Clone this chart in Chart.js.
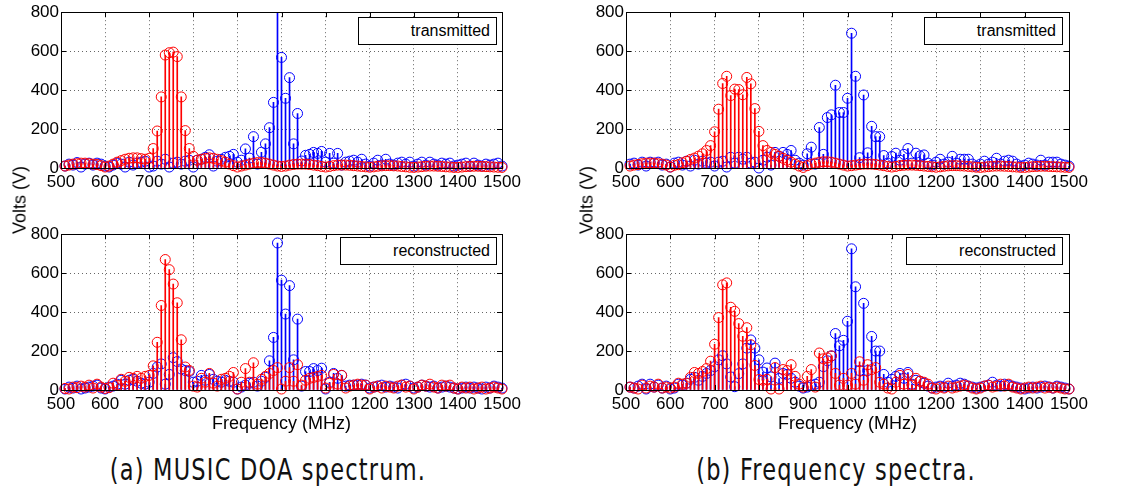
<!DOCTYPE html>
<html>
<head>
<meta charset="utf-8">
<script src="https://cdn.jsdelivr.net/npm/chart.js@4"></script>
<style>
  body { margin: 0; background: #fff; }
  #page { position: relative; width: 1138px; height: 495px; overflow: hidden; font-family: "Liberation Sans", Arial, sans-serif; }
  canvas { position: absolute; }
  .legend { position: absolute; border: 1px solid #000; background: #fff; font-size: 16px; line-height: 26px; height: 26px; text-align: right; padding-right: 6px; box-sizing: content-box; }
  .ylab { position: absolute; font-size: 18px; transform: translate(-50%, -50%) rotate(-90deg); white-space: nowrap; }
  .caption { position: absolute; font-family: "DejaVu Sans Condensed", "DejaVu Sans", sans-serif; font-size: 25px; letter-spacing: 1.2px; color: #111; transform: translate(-50%, -50%) scaleY(1.2); white-space: nowrap; }
</style>
</head>
<body>
<div id="page">
  <canvas id="ta" width="565" height="200" style="left:0;top:0"></canvas>
  <canvas id="tb" width="573" height="200" style="left:565px;top:0"></canvas>
  <canvas id="ra" width="565" height="215" style="left:0;top:222px"></canvas>
  <canvas id="rb" width="573" height="215" style="left:565px;top:222px"></canvas>
  <div class="legend" style="left:358px;top:17px;width:131px">transmitted</div>
  <div class="legend" style="left:924px;top:17px;width:131px">transmitted</div>
  <div class="legend" style="left:340px;top:237px;width:149px">reconstructed</div>
  <div class="legend" style="left:906px;top:237px;width:149px">reconstructed</div>
  <div class="ylab" style="left:20px;top:200px">Volts (V)</div>
  <div class="ylab" style="left:587px;top:200px">Volts (V)</div>
  <div class="caption" style="left:268px;top:470px">(a) MUSIC DOA spectrum.</div>
  <div class="caption" style="left:836px;top:470px">(b) Frequency spectra.</div>
</div>
<script>
// frequency grid (MHz)
const freqs = [
  509.1, 518.2, 527.3, 536.4, 545.5, 554.5, 563.6, 572.7, 581.8, 590.9, 600,
  609.1, 618.2, 627.3, 636.4, 645.5, 654.5, 663.6, 672.7, 681.8, 690.9, 700,
  709.1, 718.2, 727.3, 736.4, 745.5, 754.5, 763.6, 772.7, 781.8, 790.9, 800,
  809.1, 818.2, 827.3, 836.4, 845.5, 854.5, 863.6, 872.7, 881.8, 890.9, 900,
  909.1, 918.2, 927.3, 936.4, 945.5, 954.5, 963.6, 972.7, 981.8, 990.9, 1000,
  1009.1, 1018.2, 1027.3, 1036.4, 1045.5, 1054.5, 1063.6, 1072.7, 1081.8, 1090.9, 1100,
  1109.1, 1118.2, 1127.3, 1136.4, 1145.5, 1154.5, 1163.6, 1172.7, 1181.8, 1190.9, 1200,
  1209.1, 1218.2, 1227.3, 1236.4, 1245.5, 1254.5, 1263.6, 1272.7, 1281.8, 1290.9, 1300,
  1309.1, 1318.2, 1327.3, 1336.4, 1345.5, 1354.5, 1363.6, 1372.7, 1381.8, 1390.9, 1400,
  1409.1, 1418.2, 1427.3, 1436.4, 1445.5, 1454.5, 1463.6, 1472.7, 1481.8, 1490.9, 1500
];

const xTicks = [500, 600, 700, 800, 900, 1000, 1100, 1200, 1300, 1400, 1500];
const yTicks = [0, 200, 400, 600, 800];

// (a) transmitted
const aTxBlue = [
  10, 20, 15, 28, 5, 20, 25, 15, 25, 20, 10,
  5, 15, 25, 20, 5, 30, 15, 25, 30, 35, 5,
  10, 35, 20, 45, 5, 25, 30, 20, 35, 40, 5,
  40, 45, 55, 68, 10, 35, 45, 55, 60, 70, 30,
  40, 98, 51, 161, 20, 81, 124, 207, 337, 900, 568,
  358, 464, 124, 280, 36, 65, 70, 80, 75, 85, 30,
  75, 25, 75, 15, 30, 35, 40, 30, 45, 20, 10,
  25, 40, 15, 45, 20, 15, 25, 30, 20, 30, 10,
  20, 30, 15, 30, 20, 15, 25, 20, 25, 10, 15,
  20, 25, 10, 25, 15, 10, 20, 15, 20, 25, 10
];
const aTxRed = [
  10, 15, 20, 22, 25, 25, 22, 20, 18, 12, 5,
  10, 20, 30, 38, 45, 50, 52, 52, 48, 45, 50,
  100, 190, 365, 580, 592, 595, 572, 365, 192, 100, 60,
  40, 45, 50, 52, 50, 45, 38, 30, 20, 12, 5,
  10, 15, 20, 25, 28, 28, 25, 20, 15, 10, 8,
  10, 15, 18, 20, 20, 20, 18, 15, 12, 8, 5,
  8, 12, 15, 15, 15, 14, 12, 10, 8, 6, 4,
  6, 9, 11, 12, 12, 11, 10, 8, 6, 4, 3,
  5, 7, 9, 10, 10, 9, 8, 6, 5, 3, 3,
  5, 7, 8, 9, 9, 8, 7, 6, 5, 4, 3
];

// (b) transmitted
const bTxBlue = [
  20, 25, 15, 30, 10, 30, 25, 30, 15, 20, 5,
  25, 30, 15, 35, 10, 40, 20, 35, 25, 30, 10,
  30, 35, 5, 55, 25, 55, 45, 55, 25, 30, 0,
  40, 55, 15, 80, 60, 80, 70, 90, 40, 25, 15,
  73, 107, 20, 208, 70, 259, 273, 425, 285, 285, 358,
  692, 471, 53, 375, 78, 214, 161, 161, 64, 25, 59,
  76, 40, 70, 100, 25, 76, 62, 67, 25, 15, 30,
  45, 20, 30, 60, 25, 45, 45, 45, 20, 10, 20,
  35, 20, 30, 50, 20, 35, 40, 35, 20, 10, 15,
  25, 20, 15, 40, 15, 30, 30, 30, 20, 15, 10
];
const bTxRed = [
  10, 15, 18, 22, 25, 25, 25, 22, 20, 15, 5,
  14, 17, 27, 34, 44, 51, 61, 73, 90, 115, 186,
  302, 434, 471, 372, 405, 403, 376, 465, 432, 305, 188,
  115, 90, 80, 70, 60, 50, 40, 30, 20, 10, 3,
  12, 20, 25, 30, 32, 32, 30, 25, 20, 15, 10,
  12, 15, 18, 20, 20, 20, 18, 15, 12, 8, 5,
  8, 12, 14, 15, 15, 14, 12, 10, 8, 6, 4,
  6, 9, 11, 12, 12, 11, 10, 8, 6, 4, 3,
  5, 7, 9, 10, 10, 9, 8, 6, 5, 3, 3,
  5, 7, 8, 9, 9, 8, 7, 6, 5, 4, 3
];

// (a) reconstructed
const aRcBlue = [
  5, 15, 10, 20, 5, 10, 15, 20, 25, 10, 5,
  15, 20, 30, 50, 30, 50, 55, 45, 35, 30, 40,
  85, 118, 134, 30, 80, 166, 146, 108, 100, 95, 40,
  45, 75, 50, 80, 55, 45, 40, 50, 45, 40, 5,
  15, 25, 35, 40, 20, 45, 65, 150, 270, 755, 564,
  390, 536, 155, 364, 20, 95, 95, 110, 100, 112, 5,
  40, 85, 60, 75, 20, 25, 25, 25, 30, 25, 10,
  15, 20, 25, 15, 20, 15, 10, 25, 30, 20, 10,
  15, 25, 20, 15, 20, 10, 15, 20, 15, 10, 5,
  10, 15, 10, 15, 10, 5, 15, 10, 20, 15, 10
];
const aRcRed = [
  8, 5, 15, 12, 20, 15, 25, 10, 30, 15, 8,
  12, 35, 25, 55, 45, 65, 60, 70, 60, 70, 75,
  124, 245, 434, 670, 618, 544, 448, 258, 118, 100, 20,
  15, 60, 40, 85, 35, 20, 55, 60, 70, 90, 5,
  40, 110, 40, 140, 30, 55, 70, 85, 100, 115, 5,
  45, 115, 45, 130, 25, 50, 60, 65, 70, 75, 10,
  35, 80, 30, 75, 10, 20, 25, 30, 25, 25, 5,
  15, 20, 10, 20, 15, 10, 20, 25, 15, 20, 5,
  15, 25, 20, 30, 15, 10, 25, 20, 25, 10, 5,
  15, 10, 15, 5, 10, 15, 5, 10, 15, 10, 5
];

// (b) reconstructed
const bRcBlue = [
  15, 10, 20, 30, 5, 30, 15, 25, 10, 20, 5,
  10, 30, 25, 35, 55, 65, 50, 70, 85, 100, 120,
  155, 176, 134, 67, 17, 84, 134, 215, 257, 215, 155,
  92, 113, 67, 138, 59, 85, 80, 60, 40, 20, 10,
  15, 25, 30, 40, 120, 150, 175, 290, 227, 255, 353,
  725, 530, 100, 445, 100, 275, 200, 200, 80, 40, 55,
  70, 85, 60, 90, 30, 50, 45, 35, 20, 10, 15,
  20, 15, 35, 20, 25, 35, 30, 20, 15, 10, 15,
  20, 25, 40, 25, 20, 30, 25, 20, 15, 10, 5,
  10, 15, 10, 15, 20, 15, 10, 20, 15, 10, 5
];
const bRcRed = [
  15, 10, 5, 25, 10, 20, 15, 30, 10, 15, 10,
  15, 35, 30, 35, 65, 90, 85, 95, 110, 148, 235,
  372, 540, 550, 425, 404, 341, 276, 320, 232, 126, 54,
  50, 55, 5, 115, 5, 105, 100, 130, 70, 30, 15,
  70, 105, 15, 190, 160, 165, 175, 85, 25, 60, 25,
  85, 30, 145, 50, 130, 105, 115, 40, 30, 10, 5,
  40, 75, 30, 80, 25, 60, 45, 40, 30, 10, 5,
  15, 10, 20, 10, 15, 20, 25, 20, 10, 5, 10,
  20, 25, 15, 20, 30, 20, 30, 15, 10, 5, 10,
  15, 10, 15, 20, 10, 15, 10, 15, 10, 5, 5
];

const BLUE = '#0000ff';
const RED = '#ff0000';
const FONT = 'Liberation Sans, Arial, sans-serif';

// axes box with inward tick marks, like the matlab figure
const boxPlugin = {
  id: 'box',
  afterDraw(chart) {
    const { ctx, chartArea: a, scales: { x, y } } = chart;
    ctx.save();
    ctx.strokeStyle = '#000';
    ctx.lineWidth = 1;
    ctx.beginPath();
    x.ticks.forEach(t => {
      const px = Math.round(x.getPixelForValue(t.value)) + 0.5;
      ctx.moveTo(px, a.bottom); ctx.lineTo(px, a.bottom - 5);
      ctx.moveTo(px, a.top); ctx.lineTo(px, a.top + 5);
    });
    y.ticks.forEach(t => {
      const py = Math.round(y.getPixelForValue(t.value)) + 0.5;
      ctx.moveTo(a.left, py); ctx.lineTo(a.left + 5, py);
      ctx.moveTo(a.right, py); ctx.lineTo(a.right - 5, py);
    });
    ctx.stroke();
    ctx.strokeRect(Math.round(a.left) + 0.5, Math.round(a.top) + 0.5,
      Math.round(a.right - a.left), Math.round(a.bottom - a.top));
    ctx.restore();
  }
};

function pts(vals) {
  return vals.map((v, i) => ({ x: freqs[i], y: v }));
}

function stems(vals, color) {
  return { type: 'bar', data: pts(vals), backgroundColor: color, borderWidth: 0,
    barThickness: 1, grouped: false };
}

function circles(vals, color) {
  return { type: 'scatter', data: pts(vals), borderColor: color, backgroundColor: 'rgba(0,0,0,0)',
    pointRadius: 5, pointBorderWidth: 1, pointStyle: 'circle',
    clip: { left: 7, right: 7, top: 0, bottom: 7 } };
}

function makePanel(id, blue, red, rightPad, withTitle) {
  const ctx = document.getElementById(id).getContext('2d');
  return new Chart(ctx, {
    type: 'bar',
    data: {
      datasets: [
        circles(red, RED),
        stems(red, RED),
        circles(blue, BLUE),
        stems(blue, BLUE)
      ]
    },
    options: {
      responsive: false,
      animation: false,
      events: [],
      layout: { padding: { left: 21, top: 10, right: rightPad, bottom: withTitle ? 2 : 10 } },
      plugins: { legend: { display: false }, tooltip: { enabled: false } },
      scales: {
        x: {
          type: 'linear', min: 500, max: 1500, offset: false,
          afterBuildTicks: s => { s.ticks = xTicks.map(v => ({ value: v })); },
          afterFit: s => { s.height = withTitle ? 45 : 22; },
          ticks: { color: '#000', font: { family: FONT, size: 17 }, padding: 4, maxRotation: 0, autoSkip: false,
            callback: v => String(v) },
          grid: { color: 'rgba(0,0,0,0.6)', drawTicks: false, offset: false },
          border: { color: '#000', width: 1, dash: [1, 3] },
          title: { display: withTitle, text: 'Frequency (MHz)', color: '#000',
            font: { family: FONT, size: 18 }, padding: { top: 0, bottom: 0 } }
        },
        y: {
          min: 0, max: 800,
          afterBuildTicks: s => { s.ticks = yTicks.map(v => ({ value: v })); },
          afterFit: s => { s.width = 40; },
          ticks: { color: '#000', font: { family: FONT, size: 17 }, padding: 2,
            callback: v => String(v) },
          grid: { color: 'rgba(0,0,0,0.6)', drawTicks: false },
          border: { color: '#000', width: 1, dash: [1, 3] }
        }
      }
    },
    plugins: [boxPlugin]
  });
}

makePanel('ta', aTxBlue, aTxRed, 63, false);
makePanel('tb', bTxBlue, bTxRed, 69, false);
makePanel('ra', aRcBlue, aRcRed, 63, true);
makePanel('rb', bRcBlue, bRcRed, 69, true);
</script>
</body>
</html>
